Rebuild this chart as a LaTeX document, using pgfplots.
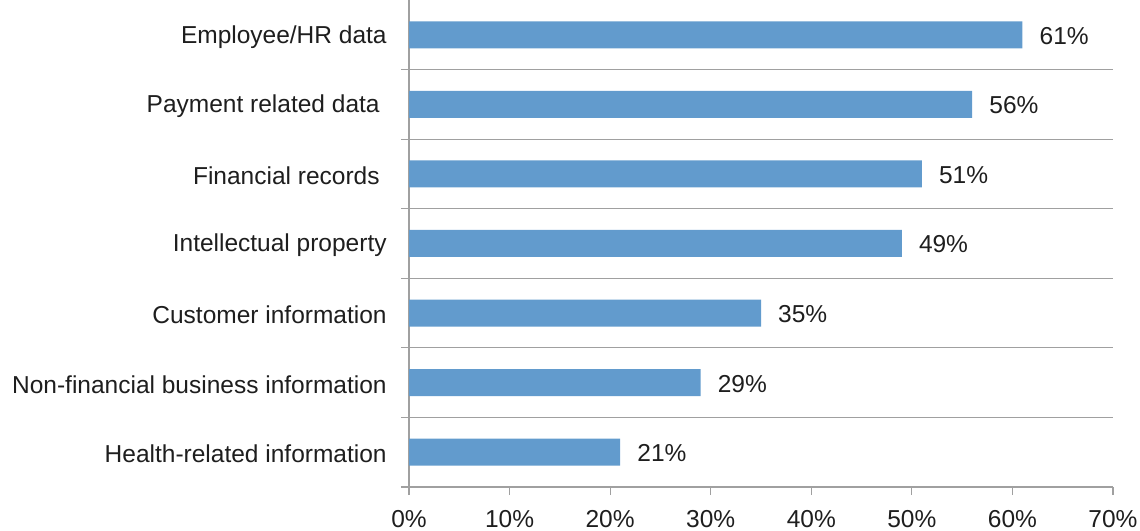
\documentclass[border=0pt]{standalone}
\usepackage{fontspec}
\setmainfont{Liberation Sans}
\usepackage{pgfplots}
\pgfplotsset{compat=1.18}
\definecolor{barblue}{RGB}{98,155,205}
\definecolor{axgray}{RGB}{160,160,160}
\definecolor{txt}{RGB}{30,30,30}
\begin{document}
\fontsize{24.5bp}{29bp}\selectfont
\begin{tikzpicture}
\path[use as bounding box] (0,0) rectangle (1140bp,531bp);
\begin{axis}[
  at={(409bp,44bp)}, anchor=south west,
  scale only axis, width=704bp, height=487bp,
  xbar, bar width=27bp,
  xmin=0, xmax=70, ymin=-0.5, ymax=6.5,
  /pgf/number format/assume math mode=true,
  axis x line*=bottom, axis y line*=left,
  axis line style={draw=axgray, line width=1.2bp, -},
  tick align=outside, major tick length=8bp,
  tick style={draw=axgray, line width=1.2bp},
  xtick={0,10,...,70},
  xticklabel={\pgfmathprintnumber{\tick}\%},
  xticklabel style={text=txt, yshift=-7bp},
  ytick={-0.5,0.5,...,5.5},
  yticklabels={},
  ymajorgrids,
  major grid style={draw=axgray, line width=1.2bp},
  extra y ticks={0,1,2,3,4,5,6},
  extra y tick labels={Health-related information, Non-financial business information, Customer information, Intellectual property, Financial records\kern7bp, Payment related data\kern7bp, Employee/HR data},
  extra y tick style={major tick length=0pt, grid=none, yticklabel style={text=txt, xshift=-14bp, yshift=-2bp}},
  nodes near coords={\pgfmathprintnumber{\pgfplotspointmeta}\%},
  nodes near coords style={anchor=west, inner sep=0pt, xshift=17bp, yshift=-1bp, text=txt},
  clip=false,
]
\addplot[fill=barblue, draw=none] coordinates {(21,0) (29,1) (35,2) (49,3) (51,4) (56,5) (61,6)};
\end{axis}
\end{tikzpicture}
\end{document}
